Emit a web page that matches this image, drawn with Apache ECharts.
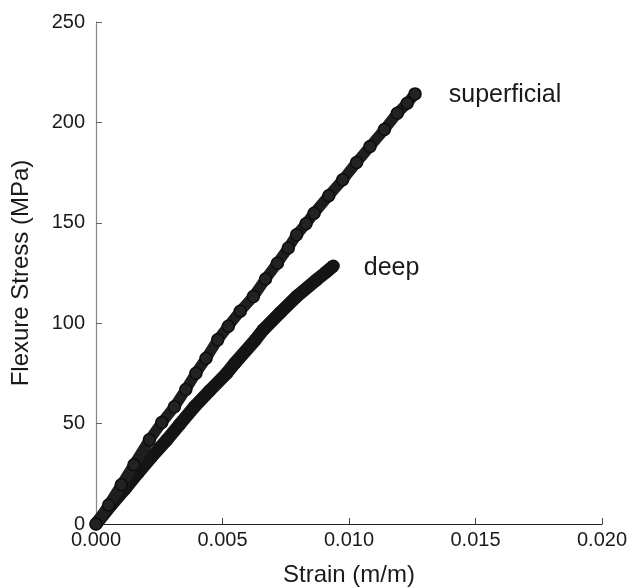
<!DOCTYPE html>
<html>
<head>
<meta charset="utf-8">
<script src="https://cdn.jsdelivr.net/npm/echarts@6/dist/echarts.min.js"></script>
<style>html,body{margin:0;padding:0;background:#fff;}#chart{width:630px;height:587px;}</style>
</head>
<body>
<div id="chart"></div>
<script>
// Strain (m/m) and flexure stress (MPa)
const superficialStrain = [0, 0.0005, 0.0010, 0.0015, 0.00211, 0.0026, 0.0031, 0.00355, 0.00395, 0.00435, 0.00481, 0.00523, 0.0057, 0.00622, 0.0067, 0.00717, 0.0076, 0.00793, 0.0083, 0.00862, 0.0092, 0.00975, 0.0103, 0.01083, 0.0114, 0.01191, 0.0123, 0.01261];
const superficialStress = [0, 9.5, 19.5, 29.5, 41.9, 50.5, 58.4, 67, 75.1, 82.5, 91.7, 98.5, 106, 113.3, 122, 129.9, 137.5, 144, 149.5, 154.8, 163.5, 171.4, 180, 188, 196.5, 204.6, 209.5, 214.2];
const deepStrain = [0, 0.0006, 0.00115, 0.00165, 0.0022, 0.0028, 0.0033, 0.00389, 0.0045, 0.00517, 0.00549, 0.0063, 0.00661, 0.0073, 0.00793, 0.00872, 0.0091, 0.00938];
const deepStress = [0, 9.5, 17.5, 25.3, 33.5, 41.9, 49.5, 58.4, 66.5, 75.1, 80.1, 91.7, 96.7, 105.5, 113.3, 121.6, 125.5, 128.5];
const seriesNames = ['superficial', 'deep'];
const xTicks = [0, 0.005, 0.010, 0.015, 0.020];
const yTicks = [0, 50, 100, 150, 200, 250];

const FONT = "'Liberation Sans', Arial, Helvetica, sans-serif";

function build(xs, ys, name, dist, dy) {
  return xs.map((x, i) => {
    const item = { value: [x, ys[i]] };
    if (i === xs.length - 1) {
      item.label = {
        show: true, formatter: name, position: 'right', distance: dist,
        offset: [0, dy], fontSize: 25, fontFamily: FONT, color: '#1a1a1a'
      };
    }
    return item;
  });
}

const chart = echarts.init(document.getElementById('chart'), null, { renderer: 'canvas' });
chart.setOption({
  animation: false,
  backgroundColor: '#ffffff',
  grid: { left: 96, right: 28, top: 22, bottom: 63, containLabel: false, outerBoundsMode: 'none' },
  xAxis: {
    type: 'value', min: xTicks[0], max: xTicks[xTicks.length - 1], interval: 0.005,
    name: 'Strain (m/m)', nameLocation: 'middle', nameGap: 39,
    nameTextStyle: { fontSize: 24, fontFamily: FONT, color: '#1a1a1a' },
    axisLine: { show: true, onZero: false, lineStyle: { color: '#222', width: 1.2 } },
    axisTick: { show: true, inside: true, length: 6, lineStyle: { color: '#444', width: 1 } },
    axisLabel: { fontSize: 20, fontFamily: FONT, color: '#1a1a1a', margin: 6,
      formatter: v => v.toFixed(3) },
    splitLine: { show: false }
  },
  yAxis: {
    type: 'value', min: yTicks[0], max: yTicks[yTicks.length - 1], interval: 50,
    name: 'Flexure Stress (MPa)', nameLocation: 'middle', nameGap: 63,
    nameTextStyle: { fontSize: 24, fontFamily: FONT, color: '#1a1a1a' },
    axisLine: { show: true, onZero: false, lineStyle: { color: '#888', width: 1.2 } },
    axisTick: { show: true, inside: true, length: 6, lineStyle: { color: '#666', width: 1 } },
    axisLabel: { fontSize: 20, fontFamily: FONT, color: '#1a1a1a', margin: 11 },
    splitLine: { show: false }
  },
  series: [
    {
      name: seriesNames[0], type: 'line',
      data: build(superficialStrain, superficialStress, seriesNames[0], 27, 1),
      lineStyle: { color: '#1e1e1e', width: 11 },
      symbol: 'circle', symbolSize: 12, showSymbol: true, showAllSymbol: true,
      itemStyle: { color: '#222', borderColor: '#0d0d0d', borderWidth: 1.5 },
      z: 3
    },
    {
      name: seriesNames[1], type: 'line',
      data: build(deepStrain, deepStress, seriesNames[1], 24, 2),
      lineStyle: { color: '#141414', width: 13 },
      symbol: 'circle', symbolSize: 13, showSymbol: true, showAllSymbol: true,
      itemStyle: { color: '#141414' },
      z: 2
    }
  ]
});
</script>
</body>
</html>
